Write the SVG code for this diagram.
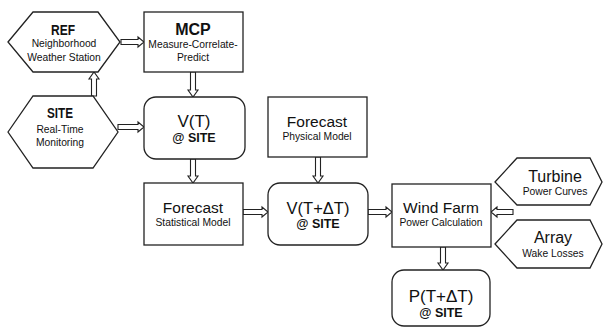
<svg xmlns="http://www.w3.org/2000/svg" width="603" height="329" viewBox="0 0 603 329">
<style>
.box{fill:#fff;stroke:#222;stroke-width:1.3}
.arr{fill:#fff;stroke:#222;stroke-width:1.1;stroke-linejoin:miter}
text{font-family:"Liberation Sans",Arial,sans-serif;fill:#111;text-anchor:middle}
.t{font-size:16px}
.tb{font-size:14px;font-weight:bold}
.s{font-size:10.3px}
.at{font-size:12.5px;font-weight:bold}
</style>
<rect width="603" height="329" fill="#fff"/>
<g id="connectors">
<polygon class="arr" points="121,39.5 138,39.5 138,37 144,42 138,47 138,44.5 121,44.5"/>
<polygon class="arr" points="91.5,96 91.5,79 89,79 94,72 99,79 96.5,79 96.5,96"/>
<polygon class="arr" points="118,124.5 138,124.5 138,122 144,127 138,132 138,129.5 118,129.5"/>
<polygon class="arr" points="190.5,72 190.5,90 188,90 193,97 198,90 195.5,90 195.5,72"/>
<polygon class="arr" points="190.5,159 190.5,176 188,176 193,183 198,176 195.5,176 195.5,159"/>
<polygon class="arr" points="315.5,157 315.5,176 313,176 318,183 323,176 320.5,176 320.5,157"/>
<polygon class="arr" points="243,209.5 262,209.5 262,207 268,212 262,217 262,214.5 243,214.5"/>
<polygon class="arr" points="368,209.5 386,209.5 386,207 392,212 386,217 386,214.5 368,214.5"/>
<polygon class="arr" points="513,209.5 497,209.5 497,207 491,212 497,217 497,214.5 513,214.5"/>
<polygon class="arr" points="440.5,247 440.5,263 438,263 443,270 448,263 445.5,263 445.5,247"/>
</g>
<g id="ref">
<polygon class="box" points="8,42 33,12 98,12 120,42 98,72 33,72"/>
<text class="tb" x="63" y="35" textLength="24" lengthAdjust="spacingAndGlyphs">REF</text>
<text class="s" x="64" y="47">Neighborhood</text>
<text class="s" x="64" y="61">Weather Station</text>
</g>
<g id="site">
<polygon class="box" points="8,132 33,96 93,96 118,132 93,168 33,168"/>
<text class="tb" x="60" y="118" textLength="26" lengthAdjust="spacingAndGlyphs">SITE</text>
<text class="s" x="60" y="133">Real-Time</text>
<text class="s" x="60" y="146">Monitoring</text>
</g>
<g id="mcp">
<rect class="box" x="144" y="12" width="99" height="60"/>
<text class="t" x="193" y="35" style="font-size:16px;font-weight:bold">MCP</text>
<text class="s" x="193" y="48">Measure-Correlate-</text>
<text class="s" x="193" y="61">Predict</text>
</g>
<g id="vt">
<rect class="box" x="144" y="97" width="101" height="62" rx="12"/>
<text class="t" x="194" y="127" style="font-size:17px">V(T)</text>
<text class="at" x="194" y="142">@ SITE</text>
</g>
<g id="forecast-physical">
<rect class="box" x="268" y="97" width="99" height="60"/>
<text class="t" x="317" y="127" style="font-size:15.5px">Forecast</text>
<text class="s" x="317" y="140">Physical Model</text>
</g>
<g id="forecast-statistical">
<rect class="box" x="144" y="183" width="99" height="62"/>
<text class="t" x="193" y="213" style="font-size:15.5px">Forecast</text>
<text class="s" x="193" y="226">Statistical Model</text>
</g>
<g id="vtdt">
<rect class="box" x="268" y="183" width="100" height="62" rx="12"/>
<text class="t" x="318" y="214" style="font-size:16.5px">V(T+ΔT)</text>
<text class="at" x="318" y="228">@ SITE</text>
</g>
<g id="wind-farm">
<rect class="box" x="392" y="184" width="99" height="63"/>
<text class="t" x="441" y="213" style="font-size:15.5px">Wind Farm</text>
<text class="s" x="441" y="226">Power Calculation</text>
</g>
<g id="turbine">
<polygon class="box" points="495,182 517,158 590,158 602,182 590,205 517,205"/>
<text class="t" x="555" y="182">Turbine</text>
<text class="s" x="555" y="195">Power Curves</text>
</g>
<g id="array">
<polygon class="box" points="495,244 517,220 590,220 602,244 590,268 517,268"/>
<text class="t" x="553" y="243">Array</text>
<text class="s" x="553" y="257">Wake Losses</text>
</g>
<g id="ptdt">
<rect class="box" x="392" y="270" width="98" height="56" rx="12"/>
<text class="t" x="441" y="302" style="font-size:17px">P(T+ΔT)</text>
<text class="at" x="441" y="317">@ SITE</text>
</g>
</svg>
